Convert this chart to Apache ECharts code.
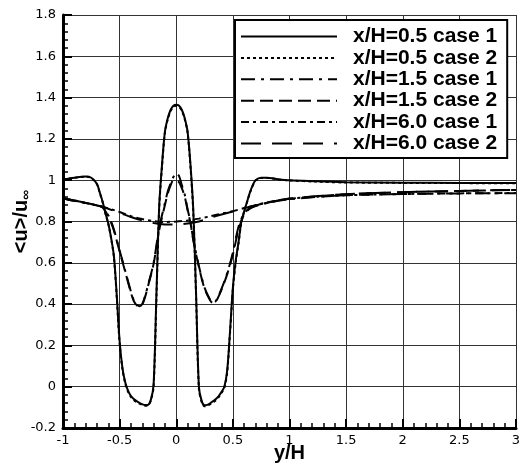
<!DOCTYPE html>
<html>
<head>
<meta charset="utf-8">
<script src="https://cdn.jsdelivr.net/npm/echarts@6/dist/echarts.min.js"></script>
<style>html,body{margin:0;padding:0;background:#fff}#c{width:523px;height:468px}</style>
</head>
<body>
<div id="c"></div>
<script>
// y/H positions and <u>/u_inf values
const xNear = [-1, -0.9, -0.8, -0.75, -0.7, -0.675, -0.65, -0.625, -0.6, -0.575, -0.55, -0.525, -0.5, -0.475, -0.45, -0.425, -0.4, -0.375, -0.35, -0.325, -0.3, -0.275, -0.25, -0.225, -0.2, -0.175, -0.15, -0.125, -0.1, -0.075, -0.05, -0.025, 0, 0.025, 0.05, 0.075, 0.1, 0.125, 0.15, 0.175, 0.2, 0.225, 0.25, 0.275, 0.3, 0.325, 0.35, 0.375, 0.4, 0.425, 0.45, 0.475, 0.5, 0.525, 0.55, 0.575, 0.6, 0.625, 0.65, 0.675, 0.7, 0.75, 0.8, 0.9, 1, 1.25, 1.5, 2, 2.5, 3];
const u05c1 = [1.003, 1.012, 1.018, 1.012, 0.982, 0.94, 0.895, 0.84, 0.79, 0.72, 0.63, 0.44, 0.22, 0.09, 0.02, -0.02, -0.045, -0.06, -0.07, -0.078, -0.085, -0.089, -0.088, -0.065, 0.01, 0.45, 0.88, 1.08, 1.235, 1.30, 1.34, 1.36, 1.365, 1.36, 1.34, 1.30, 1.235, 1.08, 0.86, 0.45, 0.0, -0.07, -0.09, -0.088, -0.08, -0.07, -0.06, -0.045, -0.025, 0.0, 0.08, 0.27, 0.48, 0.61, 0.70, 0.80, 0.85, 0.895, 0.94, 0.975, 1.0, 1.012, 1.012, 1.005, 1.0, 0.995, 0.99, 0.988, 0.987, 0.986];
const u05c2 = [1.003, 1.012, 1.017, 1.011, 0.98, 0.938, 0.893, 0.838, 0.788, 0.718, 0.625, 0.43, 0.21, 0.085, 0.015, -0.025, -0.05, -0.065, -0.075, -0.082, -0.088, -0.092, -0.09, -0.068, 0.0, 0.43, 0.87, 1.07, 1.23, 1.295, 1.335, 1.355, 1.36, 1.355, 1.335, 1.295, 1.23, 1.07, 0.85, 0.44, -0.01, -0.075, -0.095, -0.092, -0.085, -0.075, -0.065, -0.05, -0.03, -0.005, 0.07, 0.26, 0.47, 0.60, 0.695, 0.795, 0.848, 0.893, 0.938, 0.973, 0.998, 1.011, 1.011, 1.004, 0.999, 0.993, 0.989, 0.987, 0.986, 0.985];
const xMid = [-1, -0.9, -0.8, -0.7, -0.65, -0.6, -0.575, -0.55, -0.5, -0.45, -0.4, -0.375, -0.35, -0.325, -0.3, -0.275, -0.25, -0.2, -0.15, -0.1, -0.075, -0.05, -0.025, 0, 0.025, 0.05, 0.075, 0.1, 0.125, 0.15, 0.2, 0.25, 0.3, 0.325, 0.35, 0.4, 0.45, 0.5, 0.55, 0.6, 0.65, 0.7, 0.8, 1, 1.5, 2, 2.5, 3];
const u15c1 = [0.913, 0.90, 0.89, 0.878, 0.87, 0.83, 0.80, 0.76, 0.66, 0.56, 0.46, 0.42, 0.40, 0.39, 0.40, 0.44, 0.49, 0.60, 0.77, 0.89, 0.945, 0.985, 1.015, 1.035, 1.02, 0.975, 0.93, 0.86, 0.80, 0.715, 0.585, 0.48, 0.42, 0.407, 0.415, 0.475, 0.55, 0.65, 0.775, 0.84, 0.865, 0.876, 0.89, 0.908, 0.927, 0.933, 0.936, 0.937];
const u15c2 = [0.913, 0.90, 0.89, 0.878, 0.868, 0.825, 0.795, 0.755, 0.655, 0.555, 0.455, 0.415, 0.395, 0.388, 0.398, 0.435, 0.485, 0.595, 0.76, 0.88, 0.935, 0.975, 1.0, 0.998, 0.99, 0.96, 0.92, 0.855, 0.795, 0.71, 0.58, 0.475, 0.418, 0.405, 0.412, 0.47, 0.545, 0.64, 0.76, 0.835, 0.862, 0.875, 0.89, 0.91, 0.932, 0.942, 0.948, 0.953];
const xFar = [-1, -0.8, -0.65, -0.5, -0.4, -0.3, -0.2, -0.1, 0, 0.1, 0.2, 0.3, 0.4, 0.5, 0.6, 0.7, 0.8, 1, 1.25, 1.5, 2, 2.5, 3];
const u60c1 = [0.913, 0.89, 0.872, 0.846, 0.826, 0.812, 0.802, 0.798, 0.80, 0.805, 0.814, 0.825, 0.838, 0.85, 0.865, 0.879, 0.892, 0.91, 0.92, 0.927, 0.933, 0.936, 0.938];
const u60c2 = [0.913, 0.89, 0.87, 0.842, 0.822, 0.805, 0.793, 0.786, 0.785, 0.79, 0.80, 0.818, 0.834, 0.849, 0.864, 0.878, 0.891, 0.911, 0.923, 0.932, 0.942, 0.948, 0.953];
const seriesNames = ['x/H=0.5 case 1', 'x/H=0.5 case 2', 'x/H=1.5 case 1', 'x/H=1.5 case 2', 'x/H=6.0 case 1', 'x/H=6.0 case 2'];
const xTicks = [-1, 3, 0.5];
const yTicks = [-0.2, 1.8, 0.2];

const pairs = (xs, ys) => xs.map((x, i) => [x, ys[i]]);
const sets = [[xNear, u05c1], [xNear, u05c2], [xMid, u15c1], [xMid, u15c2], [xFar, u60c1], [xFar, u60c2]];
const dashes = ['solid', [3, 3], [14, 6, 3, 6], [13, 6], [8, 4, 3, 4], [20, 11]];

const chart = echarts.init(document.getElementById('c'), null, {renderer: 'canvas'});
const axisFont = 'DejaVu Sans';
chart.setOption({
  animation: false,
  backgroundColor: '#fff',
  grid: {left: 63, right: 7, top: 15, bottom: 40, containLabel: false, outerBoundsMode: 'none'},
  legend: {
    orient: 'vertical', left: 235, top: 20,
    data: seriesNames,
    selectedMode: false,
    backgroundColor: '#fff', borderColor: '#000', borderWidth: 2,
    padding: [6, 10, 4, 5],
    itemWidth: 96, itemHeight: 14, itemGap: 0.4,
    itemStyle: {color: 'rgba(0,0,0,0)', borderWidth: 0, opacity: 0},
    textStyle: {color: '#000', fontFamily: 'Liberation Sans', fontWeight: 'bold', fontSize: 21, lineHeight: 21, padding: [0, 0, 0, 11]}
  },
  xAxis: {
    type: 'value', min: xTicks[0], max: xTicks[1], interval: xTicks[2],
    name: 'y/H', nameLocation: 'middle', nameGap: 15, nameMoveOverlap: false,
    nameTextStyle: {color: '#000', fontFamily: 'Liberation Sans', fontWeight: 'bold', fontSize: 20},
    axisLine: {onZero: false, lineStyle: {color: '#000', width: 3}},
    axisTick: {inside: true, length: 9, lineStyle: {color: '#000', width: 2}},
    minorTick: {show: true, splitNumber: 5, length: 5, lineStyle: {color: '#000', width: 1.5}},
    axisLabel: {color: '#000', fontFamily: axisFont, fontSize: 13, margin: 6},
    splitLine: {show: true, lineStyle: {color: '#333', width: 1}}
  },
  yAxis: {
    type: 'value', min: yTicks[0], max: yTicks[1], interval: yTicks[2],
    name: '<u>/u{s|∞}', nameLocation: 'middle', nameGap: 30, nameRotate: 90, nameMoveOverlap: false,
    nameTextStyle: {color: '#000', fontFamily: 'Liberation Sans', fontWeight: 'bold', fontSize: 20,
      rich: {s: {fontFamily: 'Liberation Sans', fontWeight: 'bold', fontSize: 14, color: '#000', padding: [10, 0, 0, 0]}}},
    axisLine: {onZero: false, lineStyle: {color: '#000', width: 3}},
    axisTick: {inside: true, length: 9, lineStyle: {color: '#000', width: 2}},
    minorTick: {show: true, splitNumber: 5, length: 5, lineStyle: {color: '#000', width: 1.5}},
    axisLabel: {color: '#000', fontFamily: axisFont, fontSize: 13, margin: 7},
    splitLine: {show: true, lineStyle: {color: '#333', width: 1}}
  },
  series: sets.map((s, i) => ({
    name: seriesNames[i], type: 'line', symbol: 'none', smooth: 0.3,
    data: pairs(s[0], s[1]),
    lineStyle: {color: '#000', width: 2, type: dashes[i]},
    itemStyle: {color: '#000'},
    z: 3
  }))
});
</script>
</body>
</html>
